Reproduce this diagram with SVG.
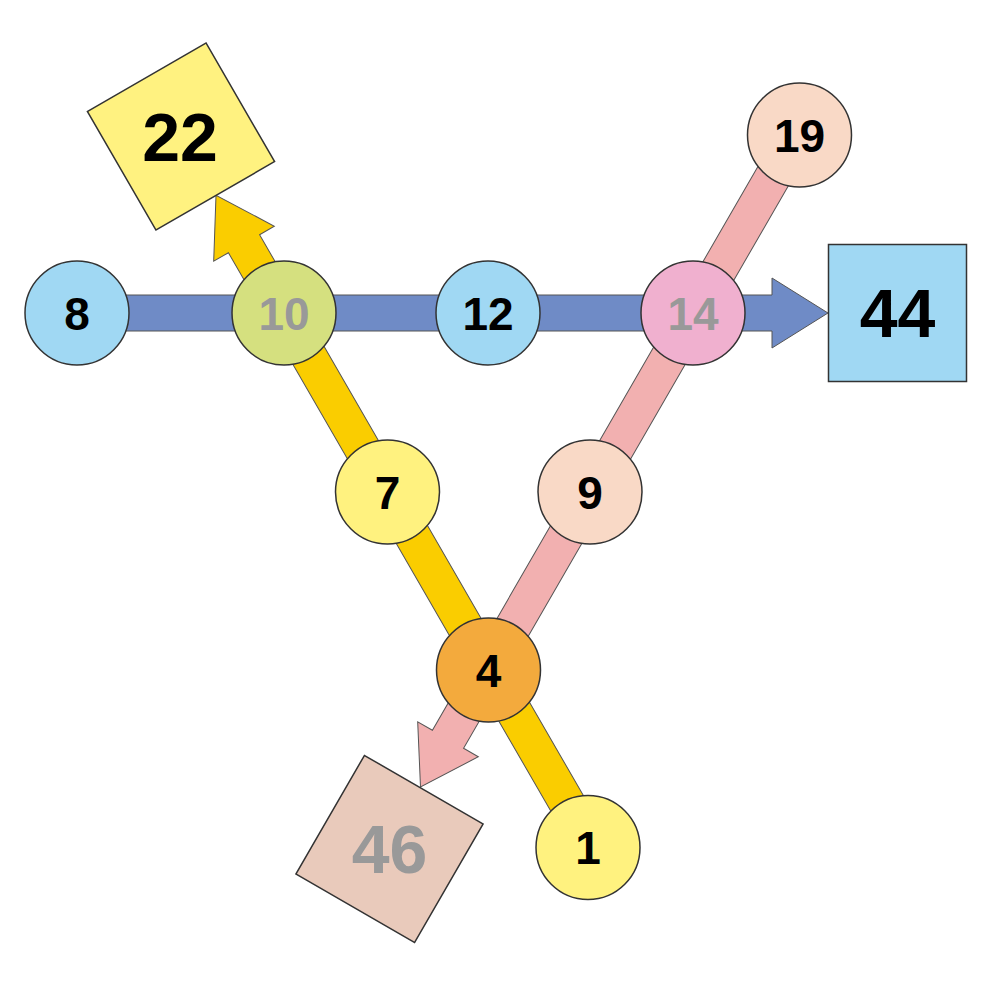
<svg xmlns="http://www.w3.org/2000/svg" width="1000" height="1000" viewBox="0 0 1000 1000">
<style>
.arrow{stroke:#555;stroke-width:1;stroke-linejoin:miter}
.node circle{stroke:#333;stroke-width:1.5}
.node rect{stroke:#333;stroke-width:1.5}
.lbl{font-family:"Liberation Sans",Arial,sans-serif;font-weight:bold;font-size:46px;text-anchor:middle;fill:#000}
.big{font-size:68px}
.gray{fill:#999}
</style>
<rect width="1000" height="1000" fill="#fff"/>
<g id="connectors">
  <polygon class="arrow" fill="#6f8bc6" transform="translate(693,313)" points="-616,-18 79,-18 79,-35 135,0 79,35 79,18 -616,18"/>
  <polygon class="arrow" fill="#f2b0b0" transform="translate(488,670) rotate(120)" points="-619,-18 80,-18 80,-35 135,0 80,35 80,18 -619,18"/>
  <polygon class="arrow" fill="#facd00" transform="translate(284,313) rotate(-120)" points="-615,-18 80,-18 80,-35 136,0 80,35 80,18 -615,18"/>
</g>
<g id="n22" class="node"><rect x="-68.5" y="-68.5" width="137" height="137" fill="#fff280" transform="translate(181,136.5) rotate(-30)"/><text class="lbl big" x="180" y="160.5">22</text></g>
<g id="n44" class="node"><rect x="828.5" y="244.5" width="138" height="137" fill="#a0d8f3"/><text class="lbl big" x="897.5" y="337">44</text></g>
<g id="n46" class="node"><rect x="-68.5" y="-68.5" width="137" height="137" fill="#e9cabb" transform="translate(389.5,849) rotate(30)"/><text class="lbl big gray" x="389.5" y="873">46</text></g>
<g id="n8" class="node"><circle cx="77" cy="313" r="52" fill="#a0d8f3"/><text class="lbl" x="77" y="329.5">8</text></g>
<g id="n10" class="node"><circle cx="284" cy="313" r="52" fill="#d5e07f"/><text class="lbl gray" x="284" y="329.5">10</text></g>
<g id="n12" class="node"><circle cx="488" cy="313" r="52" fill="#a0d8f3"/><text class="lbl" x="488" y="329.5">12</text></g>
<g id="n14" class="node"><circle cx="693" cy="313" r="52" fill="#f0b0cf"/><text class="lbl gray" x="693" y="329.5">14</text></g>
<g id="n19" class="node"><circle cx="799.5" cy="135" r="52" fill="#f9d9c6"/><text class="lbl" x="799.5" y="151.5">19</text></g>
<g id="n7" class="node"><circle cx="387.5" cy="492" r="52" fill="#fff27f"/><text class="lbl" x="387.5" y="508.5">7</text></g>
<g id="n9" class="node"><circle cx="590" cy="492" r="52" fill="#f9d9c6"/><text class="lbl" x="590" y="508.5">9</text></g>
<g id="n4" class="node"><circle cx="488.5" cy="670" r="52" fill="#f3aa3d"/><text class="lbl" x="488.5" y="686.5">4</text></g>
<g id="n1" class="node"><circle cx="588" cy="847.5" r="52" fill="#fff27f"/><text class="lbl" x="588" y="864">1</text></g>
</svg>
